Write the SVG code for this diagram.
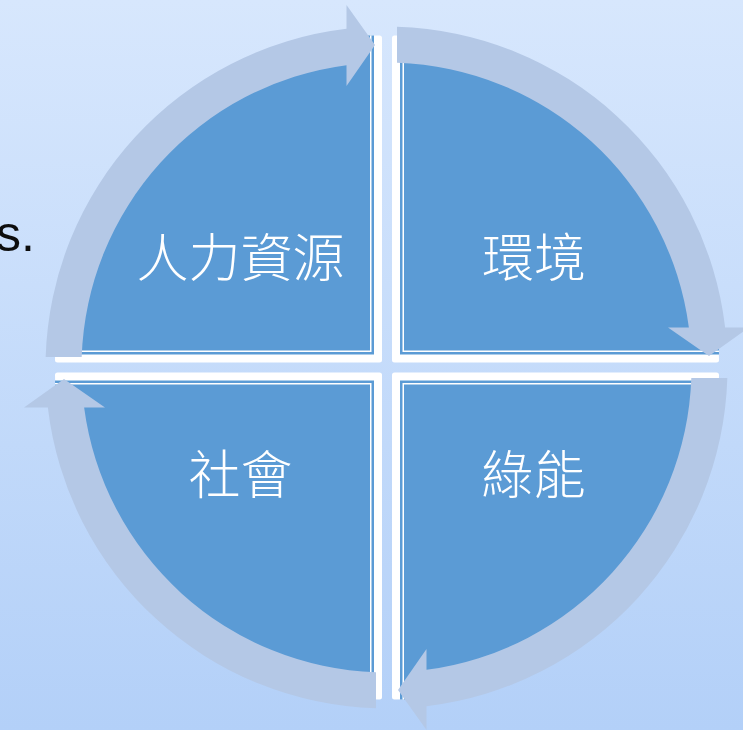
<svg xmlns="http://www.w3.org/2000/svg" xmlns:xlink="http://www.w3.org/1999/xlink" width="743" height="730" viewBox="0 0 743 730">
  <style>
    .lbl { font-family: "Noto Sans CJK TC", "Noto Sans CJK SC", sans-serif; font-size: 52px; font-weight: 300; fill: #ffffff; text-anchor: middle; }
    .side { font-family: "Liberation Sans", Arial, sans-serif; font-size: 50px; fill: #0d0d0d; }
    .band { fill: #b4c8e6; }
  </style>
  <defs>
    <linearGradient id="bg" x1="0" y1="0" x2="0" y2="1">
      <stop offset="0" stop-color="#d7e7fd"/>
      <stop offset="1" stop-color="#b3d0f8"/>
    </linearGradient>
    <g id="quad">
      <path d="M-2.5 -2.5 L-324.5 -2.5 A322 322 0 0 1 -2.5 -324.5 Z" fill="#ffffff" stroke="#ffffff" stroke-width="5" stroke-linejoin="round"/>
      <path d="M-8 -8 L-327 -8 A319 319 0 0 1 -8 -327 Z" fill="#5b9bd5"/>
      <path d="M-10.5 -10.5 L-327 -10.5 A316.5 316.5 0 0 1 -10.5 -327 Z" fill="#ffffff"/>
      <path d="M-12 -12 L-327 -12 A315 315 0 0 1 -12 -327 Z" fill="#5b9bd5"/>
    </g>
    <path id="arr" class="band" d="M-304.82 -10.5 L-340.84 -10.5 A341 341 0 0 1 -40 -338.65 L-40 -362.5 L-11.5 -322.5 L-40 -281.5 L-40 -302.37 A305 305 0 0 0 -304.82 -10.5 Z"/>
  </defs>

  <rect x="0" y="0" width="743" height="730" fill="url(#bg)"/>

  <text class="side" x="-4" y="251">s.</text>

  <g id="node-hr">
    <use xlink:href="#quad" href="#quad" transform="translate(382 362.5)"/>
    <text class="lbl" x="240.5" y="277">人力資源</text>
  </g>
  <g id="node-env">
    <use xlink:href="#quad" href="#quad" transform="translate(392 362.5) scale(-1 1)"/>
    <text class="lbl" x="534" y="277">環境</text>
  </g>
  <g id="node-society">
    <use xlink:href="#quad" href="#quad" transform="translate(382 372.5) scale(1 -1)"/>
    <text class="lbl" x="240.5" y="494">社會</text>
  </g>
  <g id="node-green">
    <use xlink:href="#quad" href="#quad" transform="translate(392 372.5) scale(-1 -1)"/>
    <text class="lbl" x="533.5" y="494">綠能</text>
  </g>

  <g id="connectors">
    <use xlink:href="#arr" href="#arr" transform="translate(386.5 367.5)"/>
    <use xlink:href="#arr" href="#arr" transform="translate(386.5 367.5) rotate(90)"/>
    <use xlink:href="#arr" href="#arr" transform="translate(386.5 367.5) rotate(180)"/>
    <use xlink:href="#arr" href="#arr" transform="translate(386.5 367.5) rotate(270)"/>
  </g>
</svg>
